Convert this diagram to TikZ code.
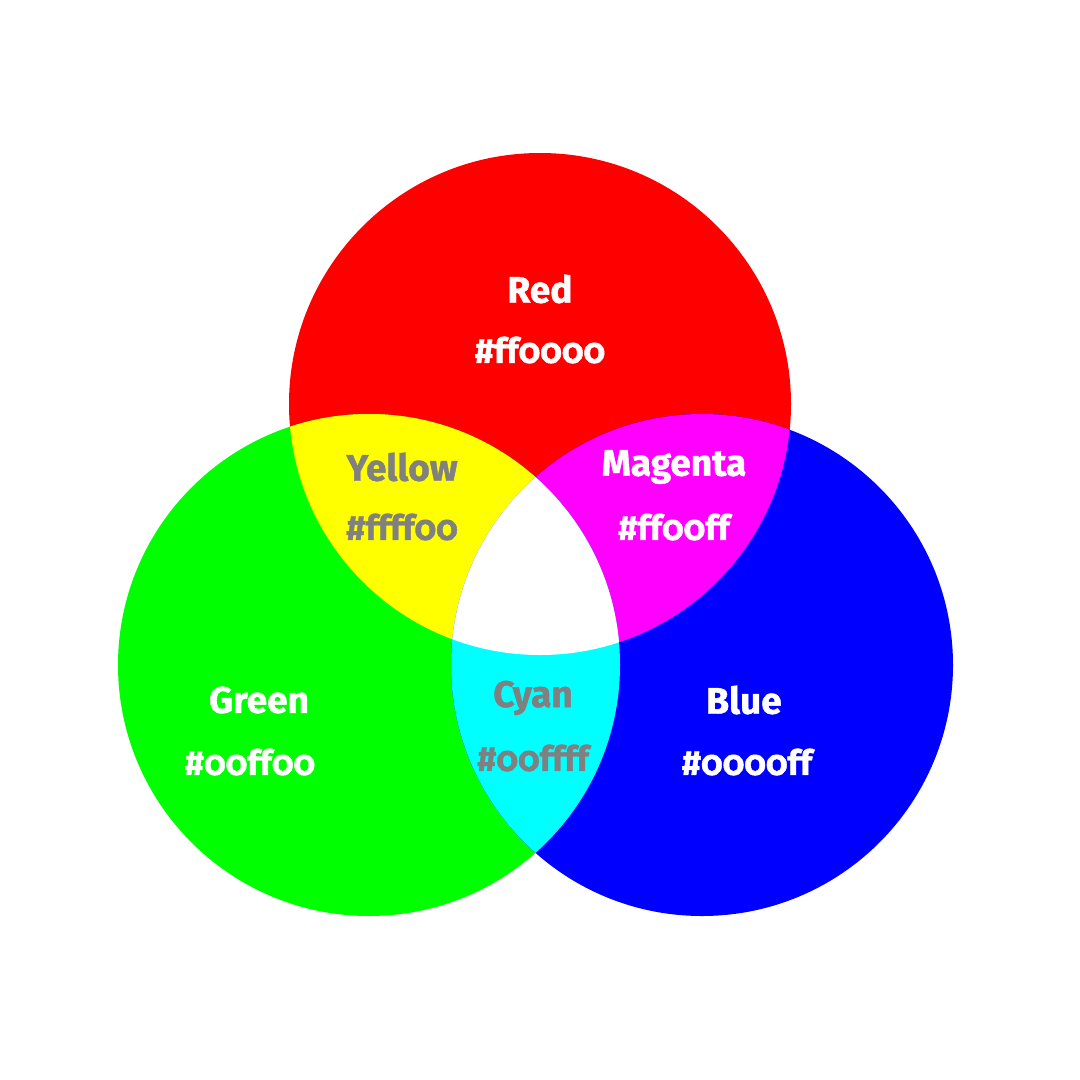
\documentclass[tikz,border=0pt]{standalone}
\usepackage{fontspec}
\setmainfont{Fira Sans}[Numbers=OldStyle, BoldFeatures={FakeBold=1.2}]
\definecolor{cred}{HTML}{FF0000}
\definecolor{cgreen}{HTML}{00FF00}
\definecolor{cblue}{HTML}{0000FF}
\definecolor{cyellow}{HTML}{FFFF00}
\definecolor{cmagenta}{HTML}{FF00FF}
\definecolor{ccyan}{HTML}{00FFFF}
\definecolor{labelgray}{HTML}{808080}
\tikzset{
  lbl/.style={font=\bfseries\fontsize{37}{40}\selectfont, inner sep=0pt, anchor=center},
  hex/.style={font=\bfseries\fontsize{34.5}{40}\selectfont},
  wlbl/.style={lbl, text=white},
  glbl/.style={lbl, text=labelgray},
}
\begin{document}
\begin{tikzpicture}[x=1pt,y=-1pt]
\useasboundingbox (0,0) rectangle (1080,1080);
\fill[white] (0,0) rectangle (1080,1080);
\def\R{251}
\coordinate (cr) at (540,404);
\coordinate (cg) at (369,665);
\coordinate (cb) at (702,665);
\fill[cred] (cr) circle (\R);
\fill[cgreen] (cg) circle (\R);
\fill[cblue] (cb) circle (\R);
\begin{scope}
  \clip (cr) circle (\R);
  \fill[cyellow] (cg) circle (\R);
  \fill[cmagenta] (cb) circle (\R);
\end{scope}
\begin{scope}
  \clip (cg) circle (\R);
  \fill[ccyan] (cb) circle (\R);
  \clip (cb) circle (\R);
  \fill[white] (cr) circle (\R);
\end{scope}
\node[wlbl] (red) at (540,289) {Red};
\node[wlbl,hex] (redhex) at (540,350) {\#ff0000};
\node[glbl] (yellow) at (402,467) {Yellow};
\node[glbl,hex] (yellowhex) at (402,527) {\#ffff00};
\node[wlbl] (magenta) at (674,467) {Magenta};
\node[wlbl,hex] (magentahex) at (674,527) {\#ff00ff};
\node[wlbl] (green) at (259,700) {Green};
\node[wlbl,hex] (greenhex) at (250,762) {\#00ff00};
\node[glbl] (cyan) at (533,698) {Cyan};
\node[glbl,hex] (cyanhex) at (533,758) {\#00ffff};
\node[wlbl] (blue) at (744,700) {Blue};
\node[wlbl,hex] (bluehex) at (747,762) {\#0000ff};
\end{tikzpicture}
\end{document}
